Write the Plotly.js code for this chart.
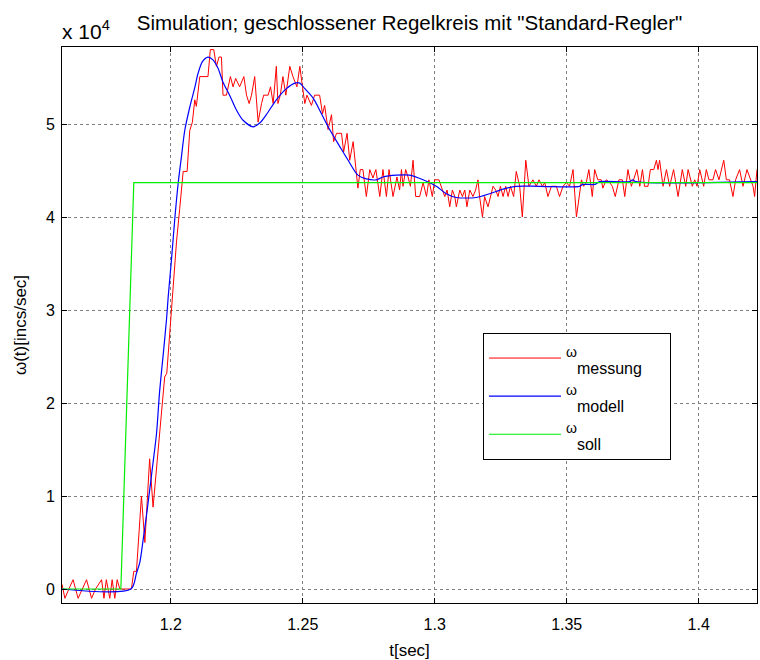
<!DOCTYPE html>
<html><head><meta charset="utf-8">
<script src="https://cdn.plot.ly/plotly-3.0.1.min.js"></script>
<style>body{margin:0;background:#fff}#chart{width:760px;height:660px}</style>
</head><body><div id="chart"></div>
<script>
// values in units of 10^4 incs/sec
const tMessung = [
1.1588,1.1599,1.1614,1.1630,1.1649,1.1664,1.1681,1.1700,1.1715,1.1738,
1.1747,1.1756,1.1769,1.1778,1.1788,1.1797,1.1807,1.1851,
1.1860,1.1870,1.1889,1.1902,1.1920,1.1933,1.1958,1.1977,1.1985,1.2003,
1.2022,1.2034,1.2047,1.2062,1.2072,
1.2082,1.2091,1.2097,1.2110,1.2141,1.2150,1.2163,1.2173,1.2183,1.2192,
1.2198,1.2211,1.2226,1.2236,1.2246,1.2261,1.2277,1.2287,1.2297,1.2306,
1.2318,1.2331,1.2344,1.2352,1.2369,1.2378,1.2388,1.2400,1.2406,1.2415,
1.2425,1.2436,1.2451,1.2463,1.2478,1.2489,1.2499,1.2508,1.2516,1.2533,
1.2545,1.2564,1.2575,1.2583,1.2596,1.2609,1.2617,1.2628,1.2647,1.2655,
1.2668,1.2678,1.2691,1.2703,1.2709,1.2718,1.2728,1.2741,1.2754,1.2766,
1.2777,1.2792,1.2804,1.2817,1.2827,1.2842,1.2857,1.2867,1.2874,1.2880,
1.2890,1.2899,1.2908,1.2918,1.2928,1.2943,1.2956,1.2969,1.2978,1.2991,
1.3000,1.3016,1.3025,1.3038,1.3047,1.3057,1.3067,1.3076,1.3082,1.3095,
1.3105,1.3114,1.3122,1.3133,1.3145,1.3155,1.3164,1.3170,1.3181,1.3189,
1.3202,1.3211,1.3221,1.3231,1.3240,1.3249,1.3259,1.3269,1.3278,1.3287,
1.3299,1.3309,1.3322,1.3332,1.3345,1.3357,1.3372,1.3385,1.3395,1.3408,
1.3417,1.3429,1.3442,1.3461,1.3473,1.3486,1.3499,1.3511,1.3524,1.3537,
1.3547,1.3556,1.3564,1.3574,1.3584,1.3597,1.3606,1.3618,1.3631,1.3637,
1.3650,1.3663,1.3673,1.3684,1.3698,1.3711,1.3720,1.3732,1.3745,1.3754,
1.3766,1.3777,1.3787,1.3795,1.3808,1.3817,1.3830,1.3840,1.3846,1.3852,
1.3865,1.3878,1.3890,1.3905,1.3922,1.3938,1.3951,1.3960,1.3976,1.3985,
1.3994,1.4004,1.4019,1.4029,1.4039,1.4054,1.4064,1.4077,1.4095,1.4105,
1.4117,1.4130,1.4140,1.4155,1.4168,1.4183,1.4196,1.4206,1.4212,1.4221];
const wMessung = [
0.05,-0.1,0,0.1,-0.1,0,0.1,-0.1,0,0.1,
-0.1,0.1,-0.1,0.1,-0.1,0.1,0,0,
0.19,0.19,1.00,0.50,1.40,0.88,1.71,2.28,2.32,3.01,
3.74,4.09,4.49,4.49,4.93,
5.02,5.26,5.19,5.51,5.51,5.80,5.80,5.62,5.72,5.72,
5.31,5.31,5.51,5.40,5.49,5.40,5.51,5.31,5.22,5.31,
5.51,5.02,5.22,5.31,5.31,5.40,5.22,5.62,5.22,5.31,
5.51,5.31,5.62,5.51,5.40,5.62,5.40,5.22,5.31,5.20,
5.31,5.31,5.11,5.20,4.94,5.10,4.81,4.90,4.90,4.70,
4.90,4.61,4.81,4.51,4.31,4.51,4.51,4.22,4.51,4.42,
4.51,4.22,4.51,4.22,4.51,4.22,4.43,4.29,4.51,4.33,
4.51,4.43,4.33,4.61,4.22,4.22,4.37,4.22,4.40,4.22,
4.40,4.40,4.33,4.22,4.29,4.11,4.29,4.22,4.11,4.29,
4.22,4.29,4.11,4.29,4.22,4.29,4.40,4.22,4.00,4.22,
4.11,4.22,4.33,4.29,4.22,4.33,4.22,4.33,4.22,4.33,
4.22,4.49,4.33,4.00,4.61,4.33,4.40,4.33,4.40,4.33,
4.37,4.22,4.33,4.33,4.22,4.33,4.37,4.33,4.51,4.00,
4.22,4.40,4.33,4.37,4.51,4.22,4.51,4.40,4.40,4.31,
4.40,4.37,4.33,4.22,4.40,4.40,4.22,4.51,4.33,4.40,
4.51,4.33,4.51,4.33,4.33,4.51,4.51,4.61,4.51,4.61,
4.33,4.51,4.33,4.51,4.22,4.51,4.33,4.51,4.33,4.40,
4.33,4.51,4.33,4.51,4.40,4.40,4.51,4.40,4.61,4.40,
4.40,4.22,4.40,4.51,4.33,4.51,4.40,4.33,4.22,4.51];

const tModell = [
1.1588,1.1849,1.1870,1.1883,1.1895,1.1908,1.1920,1.1933,1.1946,1.1958,
1.1971,1.1984,1.1990,1.2003,1.2015,1.2028,1.2041,1.2053,1.2072,1.2091,
1.2103,1.2120,1.2141,1.2160,1.2179,1.2198,1.2223,1.2249,1.2274,1.2312,
1.2337,1.2362,1.2400,1.2438,1.2470,1.2489,1.2508,1.2539,1.2571,1.2602,
1.2640,1.2672,1.2709,1.2741,1.2779,1.2804,1.2855,1.2905,1.2956,1.3006,
1.3044,1.3082,1.3158,1.3208,1.3259,1.3309,1.3398,1.3549,1.3561,1.3606,
1.3625,1.3739,1.3750,1.3761,1.4221];
const wModell = [
0,0,0.17,0.29,0.52,0.79,1.06,1.36,1.67,2.13,
2.51,2.90,3.13,3.55,3.97,4.36,4.66,4.93,5.18,5.39,
5.54,5.67,5.72,5.69,5.60,5.45,5.31,5.15,5.04,4.97,
5.01,5.10,5.26,5.38,5.44,5.44,5.38,5.28,5.11,4.94,
4.76,4.61,4.45,4.41,4.40,4.43,4.45,4.45,4.40,4.33,
4.25,4.21,4.21,4.25,4.30,4.33,4.33,4.33,4.35,4.35,
4.38,4.38,4.40,4.38,4.38];

const tSoll = [1.1588,1.1811,1.1860,1.4221];
const wSoll = [0,0,4.37,4.37];

const xTickVals = [1.2,1.25,1.3,1.35,1.4];
const xTickText = ['1.2','1.25','1.3','1.35','1.4'];
const yTickVals = [0,1,2,3,4,5];
const yTickText = ['0','1','2','3','4','5'];

const FONT = 'Liberation Sans, Arial, Helvetica, sans-serif';
const legName = (s, pad) => '<sup><span style="font-size:14px">ω</span></sup><sub><span style="font-size:16px">' + s + '</span></sub>' + (pad || '');

const traces = [
  {x: tMessung, y: wMessung, type: 'scatter', mode: 'lines', name: legName('messung', '\u00a0\u00a0\u00a0'),
   line: {color: '#ff0000', width: 1}},
  {x: tModell, y: wModell, type: 'scatter', mode: 'lines', name: legName('modell'),
   line: {color: '#0000ff', width: 1.2, shape: 'spline', smoothing: 0.8}},
  {x: tSoll, y: wSoll, type: 'scatter', mode: 'lines', name: legName('soll'),
   line: {color: '#00ee00', width: 1.2}}
];

const axisCommon = {
  ticks: 'inside', ticklen: 5, tickcolor: '#000', tickwidth: 1,
  showline: true, linecolor: '#000', linewidth: 1, mirror: 'ticks',
  showgrid: true, gridcolor: '#808080', griddash: 'dot', gridwidth: 1,
  zeroline: false, automargin: false,
  tickfont: {family: FONT, size: 16, color: '#000'}
};

const layout = {
  width: 760, height: 660,
  margin: {l: 62, r: 3, t: 47, b: 57, pad: 0},
  paper_bgcolor: '#fff', plot_bgcolor: '#fff',
  font: {family: FONT, size: 16, color: '#000'},
  title: {text: 'Simulation; geschlossener Regelkreis mit "Standard-Regler"',
          font: {family: FONT, size: 20.5, color: '#000'},
          x: 0.5, xref: 'paper', xanchor: 'center', y: 1 - 23/660, yref: 'container', yanchor: 'middle'},
  xaxis: Object.assign({}, axisCommon, {
    range: [1.1588, 1.4221], tickmode: 'array', tickvals: xTickVals, ticktext: xTickText,
    ticklabelstandoff: 7,
    title: {text: 't[sec]', font: {family: FONT, size: 17, color: '#000'}, standoff: 11}
  }),
  yaxis: Object.assign({}, axisCommon, {
    range: [-0.1505, 5.828], tickmode: 'array', tickvals: yTickVals, ticktext: yTickText,
    ticklabelstandoff: 3,
    title: {text: 'ω(t)[incs/sec]', font: {family: FONT, size: 17, color: '#000'}, standoff: 14}
  }),
  showlegend: true,
  legend: {x: (483-62)/695, y: (603-333)/556, xanchor: 'left', yanchor: 'top',
           bgcolor: '#fff', bordercolor: '#000', borderwidth: 1,
           font: {family: FONT, size: 27, color: '#000'},
           itemwidth: 72, traceorder: 'normal'},
  annotations: [{text: 'x 10<sup>4</sup>', xref: 'paper', yref: 'paper', x: 0, y: 1,
                 xanchor: 'left', yanchor: 'bottom', showarrow: false, yshift: 2, xshift: -2,
                 font: {family: FONT, size: 21, color: '#000'}}]
};

Plotly.newPlot('chart', traces, layout, {displayModeBar: false, staticPlot: true});
</script>
</body></html>
